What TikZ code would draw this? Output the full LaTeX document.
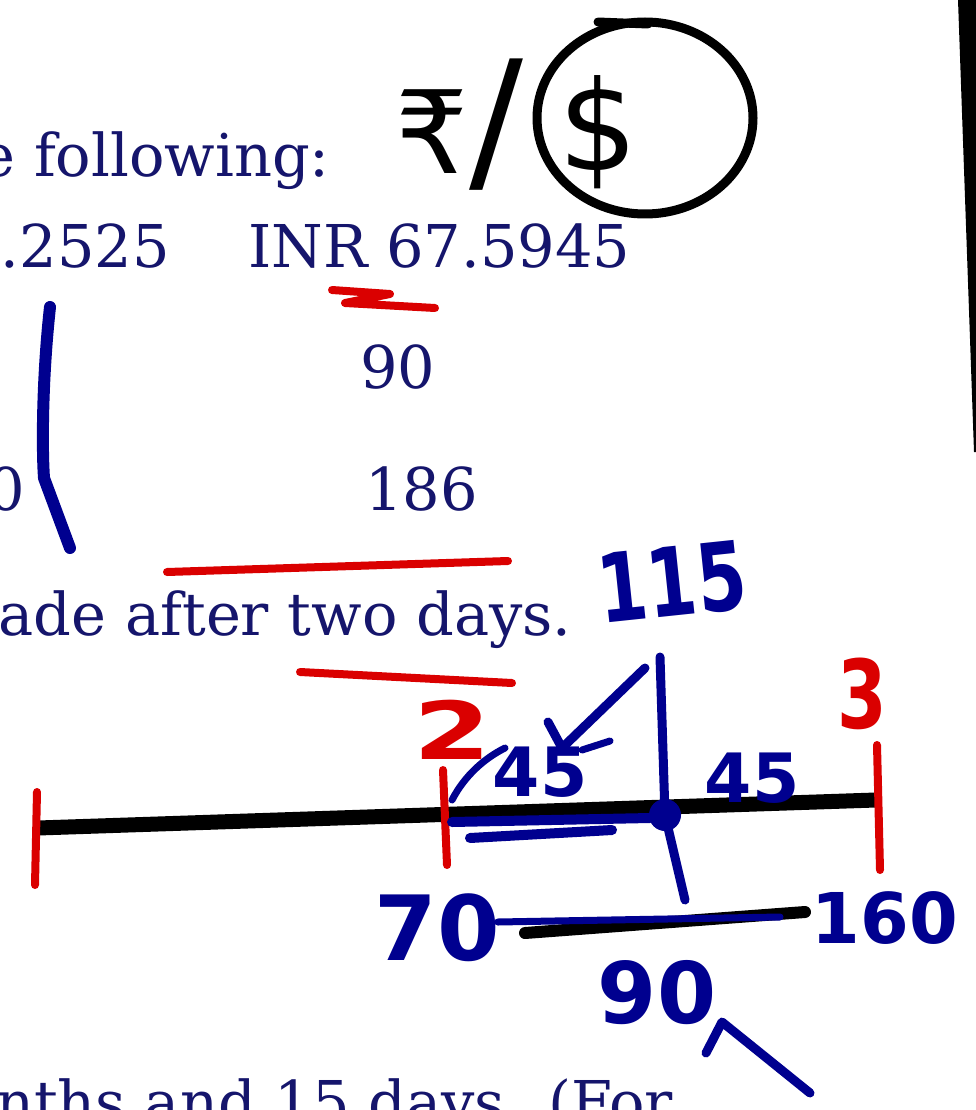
\documentclass[tikz,border=0pt]{standalone}
\usepackage{fontspec}
\setmainfont{DejaVu Serif}
\newfontfamily\hand{DejaVu Sans}
\definecolor{ink}{HTML}{15156C}
\definecolor{pen}{HTML}{00008F}
\definecolor{redpen}{HTML}{DA0000}
\begin{document}
\begin{tikzpicture}[x=1pt,y=-1pt,
  printed/.style={text=ink, font=\fontsize{59}{70}\selectfont, inner sep=0pt},
  hw/.style={inner sep=0pt, font=\hand\bfseries\fontsize{#1}{#1}\selectfont},
  hw/.default=80,
  hwthin/.style={inner sep=0pt, font=\hand\fontsize{#1}{#1}\selectfont},
  hwthin/.default=110,
  bluestroke/.style={draw=pen, line width=9pt, line cap=round, line join=round},
  redstroke/.style={draw=redpen, line width=8pt, line cap=round, line join=round},
  blackstroke/.style={draw=black, line width=9pt, line cap=round, line join=round}]
\fill[white] (0,0) rectangle (976,1110);
\useasboundingbox (0,0) rectangle (976,1110);
\clip (0,0) rectangle (976,1110);

% screen edge
\fill[black] (958,0) -- (976,0) -- (976,452) -- (974,452) -- cycle;

% printed text
\node[printed, anchor=base east] (t1) at (330,177) {e following:};
\node[printed, anchor=base east] (t2) at (170,267) {6.2525};
\node[printed, anchor=base west] (t3) at (248,267) {INR 67.5945};
\node[printed, anchor=base west] (t4) at (360,388) {90};
\node[printed, anchor=base west] (t5) at (365,510) {186};
\node[printed, anchor=base east] (t6) at (25,510) {0};
\node[printed, anchor=base east] (t7) at (572,635) {ade after two days.};
\node[printed, anchor=base west] (t8) at (-4,1123) {nths and 15 days. (For};

% rupee / dollar
\node[hwthin=115, text=black] (rupee) at (432,132) {₹};
\node[hwthin=160, text=black] (slash) at (496,125) {/};
\node[hwthin=125, text=black] (dollar) at (598,132) {\$};
\draw[blackstroke] (dollar.center) ++(47,-14) ellipse [x radius=108pt, y radius=96pt];
\draw[blackstroke] (598,22) -- (648,24);

% red underlines
\draw[redstroke] (332,290) -- (390,294) -- (345,303) -- (435,308);
\draw[redstroke] (167,572) -- (508,561);
\draw[redstroke] (300,672) -- (512,683);

% blue bracket
\draw[bluestroke, line width=12pt] (50,307) .. controls (42,380) and (42,450) .. (44,478) -- (70,548);

% number line
\coordinate (L0) at (38,828);
\coordinate (L1) at (876,800);
\draw[line width=15pt, black] (L0) -- (L1);
\draw[redstroke] (37,792) -- (35,885);
\draw[redstroke] (443,770) -- (447,865);
\draw[redstroke] (877,745) -- (880,870);
\node[hw=80, text=redpen] (two) at (452,730) {\scalebox{1.4}[1]{2}};
\node[hw=95, text=redpen] (three) at (862,694) {\scalebox{0.75}[1]{3}};

% blue annotations
\node[hw=95, text=pen, rotate=6] (n115) at (672,582) {\scalebox{0.75}[1]{115}};
\node[hw=68, text=pen] (n45a) at (540,772) {45};
\node[hw=68, text=pen] (n45b) at (752,778) {45};
\node[hw=90, text=pen] (n70) at (437,928) {70};
\node[hw=70, text=pen] (n160) at (885,918) {160};
\node[hw=85, text=pen] (n90) at (657,993) {90};

\coordinate (mid) at (665,815);
\draw[bluestroke] (660,657) -- (mid) -- (685,900);
\fill[pen] (mid) circle (16pt);
\draw[bluestroke, line width=10pt] (452,822) -- (650,818);
\draw[bluestroke, line width=10pt] (470,838) -- (612,830);
\draw[bluestroke, line width=7pt] (452,800) .. controls (465,775) and (485,758) .. (505,748);
\draw[bluestroke] (548,722) -- (562,748) -- (645,668);
\draw[bluestroke, line width=7pt] (582,750) -- (610,741);

\draw[blackstroke, line width=12pt] (525,933) -- (805,912);
\draw[bluestroke, line width=7pt] (n70.east) ++(-2,-6) -- (780,917);
\draw[bluestroke] (706,1053) -- (722,1022) -- (810,1093);
\end{tikzpicture}
\end{document}
